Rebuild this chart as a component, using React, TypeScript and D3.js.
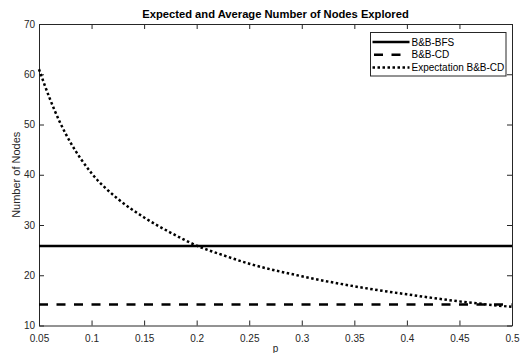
import React, { useEffect, useRef } from "react";
import * as d3 from "d3";

// values
const pValues = [0.05, 0.06, 0.07, 0.08, 0.09, 0.1, 0.125, 0.15, 0.175, 0.2, 0.225, 0.25, 0.3, 0.35, 0.4, 0.45, 0.5];
const expectationCD = [61, 55.3, 50.4, 46.4, 43.1, 40.3, 35.2, 31.5, 28.5, 25.9, 24.0, 22.3, 19.8, 17.8, 16.2, 14.8, 13.7];
const bfsValue = 25.8;
const cdValue = 14.2;
const xTicks = [0.05, 0.1, 0.15, 0.2, 0.25, 0.3, 0.35, 0.4, 0.45, 0.5];
const yTicks = [10, 20, 30, 40, 50, 60, 70];
const legendLabels = ["B&B-BFS", "B&B-CD", "Expectation B&B-CD"];

function App() {
  const svgRef = useRef<SVGSVGElement>(null);

  useEffect(() => {
    const width = 522;
    const height = 353;
    const margin = { top: 24, right: 10, bottom: 27.5, left: 39 };
    const w = width - margin.left - margin.right;
    const h = height - margin.top - margin.bottom;
    const font = "Liberation Sans, Arial, sans-serif";
    const grey = "#262626";

    const svg = d3.select(svgRef.current).attr("width", width).attr("height", height);
    svg.selectAll("*").remove();

    const chart = svg.append("g").attr("transform", `translate(${margin.left},${margin.top})`);

    const x = d3.scaleLinear().domain([0.05, 0.5]).range([0, w]);
    const y = d3.scaleLinear().domain([10, 70]).range([h, 0]);

    chart.append("rect").attr("width", w).attr("height", h).attr("fill", "white");

    // Axes with inward ticks, MATLAB-style box
    const tickLen = 5;
    const fmt = (d: number) => String(d);
    const bottom = chart.append("g").attr("transform", `translate(0,${h})`)
      .call(d3.axisBottom(x).tickValues(xTicks).tickFormat(fmt as any).tickSizeInner(-tickLen).tickSizeOuter(0).tickPadding(9));
    const top = chart.append("g")
      .call(d3.axisTop(x).tickValues(xTicks).tickFormat(() => "").tickSizeInner(-tickLen).tickSizeOuter(0));
    const left = chart.append("g")
      .call(d3.axisLeft(y).tickValues(yTicks).tickSizeInner(-tickLen).tickSizeOuter(0).tickPadding(4));
    const right = chart.append("g").attr("transform", `translate(${w},0)`)
      .call(d3.axisRight(y).tickValues(yTicks).tickFormat(() => "").tickSizeInner(-tickLen).tickSizeOuter(0));
    [bottom, top, left, right].forEach((g) => {
      g.selectAll("path").attr("stroke", grey).attr("stroke-width", 1);
      g.selectAll("line").attr("stroke", grey);
      g.selectAll("text").attr("fill", grey).attr("font-family", font).attr("font-size", 10);
    });

    // Lines
    chart.append("line")
      .attr("x1", x(0.05)).attr("x2", x(0.5)).attr("y1", y(bfsValue)).attr("y2", y(bfsValue))
      .attr("stroke", "black").attr("stroke-width", 2.5);
    chart.append("line")
      .attr("x1", x(0.05)).attr("x2", x(0.5)).attr("y1", y(cdValue)).attr("y2", y(cdValue))
      .attr("stroke", "black").attr("stroke-width", 2.5).attr("stroke-dasharray", "9,8.5");

    const line = d3.line<number>()
      .x((_, i) => x(pValues[i]))
      .y((d) => y(d))
      .curve(d3.curveMonotoneX);
    chart.append("path")
      .datum(expectationCD)
      .attr("d", line)
      .attr("fill", "none")
      .attr("stroke", "black")
      .attr("stroke-width", 2.5)
      .attr("stroke-dasharray", "2.5,2.5");

    // Title and labels
    svg.append("text")
      .attr("x", margin.left + w / 2).attr("y", 18)
      .attr("text-anchor", "middle").attr("font-family", font)
      .attr("font-size", 11.2).attr("font-weight", "bold")
      .text("Expected and Average Number of Nodes Explored");
    svg.append("text")
      .attr("x", margin.left + w / 2).attr("y", 352)
      .attr("text-anchor", "middle").attr("font-family", font)
      .attr("font-size", 10).attr("fill", grey)
      .text("p");
    svg.append("text")
      .attr("transform", `translate(19.5,${margin.top + h / 2}) rotate(-90)`)
      .attr("text-anchor", "middle").attr("font-family", font)
      .attr("font-size", 11).attr("fill", grey)
      .text("Number of Nodes");

    // Legend
    const legend = svg.append("g").attr("transform", "translate(370.5,32.5)");
    legend.append("rect").attr("width", 135.5).attr("height", 43.5)
      .attr("fill", "white").attr("stroke", grey).attr("stroke-width", 1);
    const samples = [
      { x1: 2, x2: 39, dash: null },
      { x1: 3.5, x2: 33, dash: "9,8.5" },
      { x1: 2, x2: 39, dash: "2.5,2.5" },
    ];
    legendLabels.forEach((label, i) => {
      const ly = 9.5 + i * 12.7;
      const s = samples[i];
      legend.append("line")
        .attr("x1", s.x1).attr("x2", s.x2).attr("y1", ly).attr("y2", ly)
        .attr("stroke", "black").attr("stroke-width", 2.5)
        .attr("stroke-dasharray", s.dash as any);
      legend.append("text")
        .attr("x", 41).attr("y", ly + 3.5)
        .attr("font-family", font).attr("font-size", 10).attr("fill", "black")
        .text(label);
    });
  }, []);

  return <svg ref={svgRef} style={{ position: "absolute", left: 0, top: 0 }}></svg>;
}

export default App;
